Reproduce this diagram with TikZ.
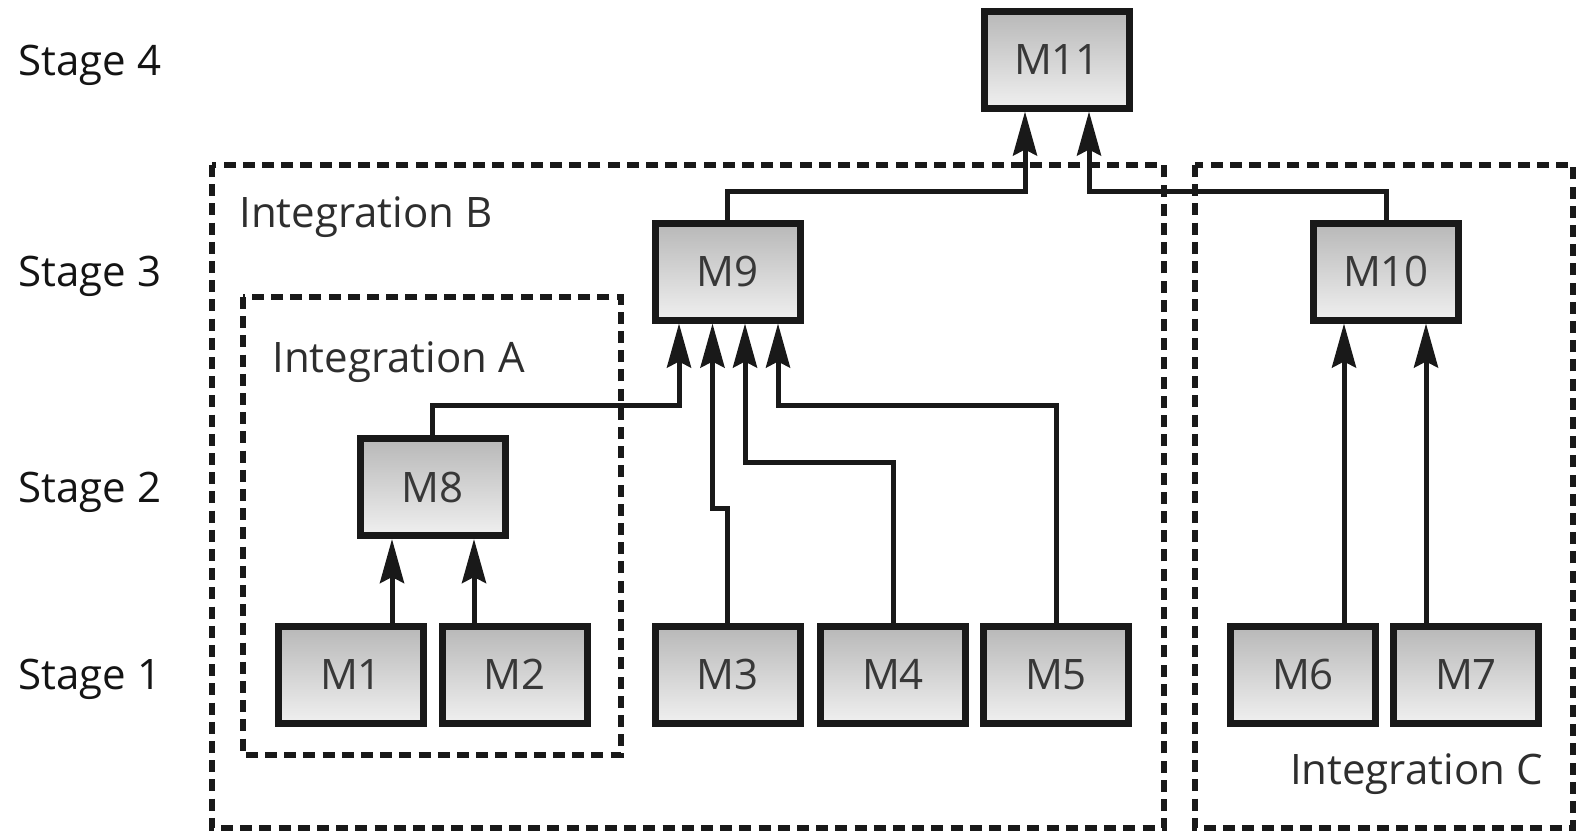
\documentclass[tikz,border=0pt]{standalone}
\usepackage{fontspec}
\setmainfont{Open Sans}
\usetikzlibrary{arrows.meta}
\begin{document}
\begin{tikzpicture}[x=0.5pt,y=-0.5pt,
  box/.style={draw=black!90, line width=3.5pt, top color=black!28, bottom color=black!6,
    minimum width=72.5pt, minimum height=48.5pt, inner sep=0pt, text=black!78,
    font=\fontsize{21pt}{25pt}\selectfont},
  arr/.style={draw=black!90, line width=2.5pt, line join=miter,
    -{Stealth[length=22pt,width=12pt,inset=3pt]}},
  dbox/.style={draw=black!90, line width=2.8pt, dash pattern=on 6pt off 3.6pt},
  lbl/.style={inner sep=0pt, text=black!82, font=\fontsize{21pt}{25pt}\selectfont},
  stg/.style={inner sep=0pt, text=black!92, font=\fontsize{21pt}{25pt}\selectfont}]
\useasboundingbox (0,0) rectangle (1579,832);
% dashed frames
\draw[dbox] (212,165) rectangle (1164,828);
\draw[dbox] (243,297) rectangle (621,755);
\draw[dbox] (1195,165) rectangle (1573,828);
% labels
\node[stg, anchor=base west] (s4) at (18,75) {Stage 4};
\node[stg, anchor=base west] (s3) at (18,286.5) {Stage 3};
\node[stg, anchor=base west] (s2) at (18,502) {Stage 2};
\node[stg, anchor=base west] (s1) at (18,689) {Stage 1};
\node[lbl, anchor=base west] (iB) at (239,227) {Integration B};
\node[lbl, anchor=base west] (iA) at (272,372) {Integration A};
\node[lbl, anchor=base east] (iC) at (1543,784) {Integration C};
% boxes
\node[box] (M11) at (1057,59.5) {M11};
\node[box] (M9) at (727.5,271.5) {M9};
\node[box] (M10) at (1386,271.5) {M10};
\node[box] (M8) at (432.5,487) {M8};
\node[box] (M1) at (351,674.5) {M1};
\node[box] (M2) at (514.5,674.5) {M2};
\node[box] (M3) at (727.5,674.5) {M3};
\node[box] (M4) at (893,674.5) {M4};
\node[box] (M5) at (1056,674.5) {M5};
\node[box] (M6) at (1303,674.5) {M6};
\node[box] (M7) at (1466,674.5) {M7};
% connectors
\draw[arr] (M1.north -| 392,0) -- (M8.south -| 392,0);
\draw[arr] (M2.north -| 474,0) -- (M8.south -| 474,0);
\draw[arr] (M8.north) -- (M8.north |- 0,405) -| (M9.south -| 679,0);
\draw[arr] (M3.north) -- (M3.north |- 0,508) -| (M9.south -| 712.5,0);
\draw[arr] (M4.north) -- (M4.north |- 0,462) -| (M9.south -| 745,0);
\draw[arr] (M5.north) -- (M5.north |- 0,405) -| (M9.south -| 778,0);
\draw[arr] (M6.north -| 1344,0) -- (M10.south -| 1344,0);
\draw[arr] (M7.north -| 1426,0) -- (M10.south -| 1426,0);
\draw[arr] (M9.north) -- (M9.north |- 0,191) -| (M11.south -| 1025,0);
\draw[arr] (M10.north) -- (M10.north |- 0,191) -| (M11.south -| 1089,0);
\end{tikzpicture}
\end{document}
